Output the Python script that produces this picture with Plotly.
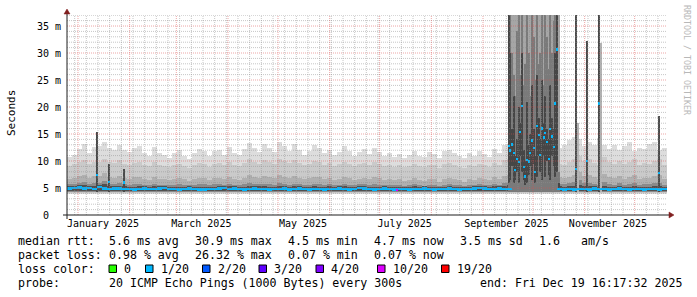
import plotly.graph_objects as go
from datetime import datetime, timedelta

# ---------------- data ----------------
START = datetime(2024, 12, 25, 9, 36)
SPAN_DAYS = 360
END = START + timedelta(days=SPAN_DAYS)
BIN_DAYS = 3
Y_MAX = 37.04

# 3-day bins (120) : smoke band tops in ms (None = covered by daily block)
max_top = [10.8, 11.2, 12.2, 13.2, 11.5, 12.6, 12.8, 13.5, 12.4, 12.0,
           13.0, 12.0, 11.6, 12.5, 12.8, 11.4, 11.0, 12.6, 11.5, 11.2,
           10.6, 11.4, 12.0, 11.0, 10.4, 11.5, 12.3, 11.8, 10.9, 11.9,
           12.0, 11.2, 12.6, 11.5, 11.2, 12.2, 13.4, 12.5, 11.7, 13.1,
           12.4, 11.6, 13.6, 12.8, 11.9, 13.2, 12.1, 11.2, 11.8, 12.9,
           12.5, 11.4, 12.0, 11.1, 11.6, 12.7, 11.8, 11.0, 11.7, 12.2,
           11.3, 12.5, 11.7, 11.0, 11.5, 10.8, 11.3, 10.6, 11.1, 11.9,
           11.0, 10.7, 11.6, 11.3, 10.5, 11.8, 12.0, 11.4, 10.9, 10.6,
           11.5, 11.0, 11.9, 11.3, 10.8, 12.3, 11.4, 13.0, 13.2, None,
           None, None, None, None, None, None, None, None, 12.5, 13.0,
           13.8, 14.5, 14.0, 12.8, 13.6, 13.0, 14.2, 12.9, 12.3, 13.0,
           12.1, 12.7, 13.5, 11.9, 12.5, 12.3, 13.1, 13.5, 12.0, 12.5]
band2_top = [9.1, 9.4, 9.8, 10.1, 9.5, 9.9, 9.8, 10.3, 9.9, 9.6,
             10.1, 9.5, 9.3, 9.7, 9.9, 9.2, 9.0, 9.8, 9.3, 9.1,
             8.8, 9.2, 9.5, 9.1, 8.7, 9.3, 9.6, 9.4, 8.9, 9.5,
             9.6, 9.2, 9.8, 9.3, 9.1, 9.7, 10.3, 9.9, 9.5, 10.1,
             9.8, 9.5, 10.4, 10.0, 9.6, 10.2, 9.7, 9.2, 9.5, 10.0,
             9.8, 9.3, 9.6, 9.1, 9.4, 9.9, 9.5, 9.0, 9.4, 9.7,
             9.3, 9.8, 9.5, 9.0, 9.3, 8.9, 9.2, 8.8, 9.1, 9.5,
             9.0, 8.8, 9.3, 9.2, 8.7, 9.4, 9.6, 9.2, 8.9, 8.7,
             9.3, 9.0, 9.5, 9.2, 8.9, 9.7, 9.3, 10.1, 10.3, None,
             None, None, None, None, None, None, None, None, 9.5, 9.3,
             9.8, 10.3, 11.0, 10.0, 10.4, 9.7, 9.3, 10.7, 9.9, 9.5,
             10.0, 9.4, 9.8, 10.3, 9.2, 9.6, 9.5, 10.0, 10.3, 9.3]
band3_top = [6.6, 6.9, 7.2, 7.5, 6.9, 7.2, 7.3, 7.8, 7.1, 6.9,
             7.3, 6.9, 6.7, 7.0, 7.1, 6.6, 6.5, 7.0, 6.7, 6.6,
             6.4, 6.6, 6.9, 6.6, 6.3, 6.7, 6.9, 6.8, 6.5, 6.8,
             6.9, 6.6, 7.0, 6.7, 6.5, 6.9, 7.4, 7.1, 6.8, 7.2,
             7.0, 6.8, 7.4, 7.1, 6.9, 7.3, 6.9, 6.6, 6.8, 7.1,
             7.0, 6.7, 6.9, 6.5, 6.7, 7.1, 6.8, 6.5, 6.7, 6.9,
             6.6, 7.0, 6.8, 6.4, 6.6, 6.4, 6.6, 6.3, 6.5, 6.8,
             6.5, 6.3, 6.7, 6.6, 6.2, 6.7, 6.9, 6.6, 6.4, 6.2,
             6.7, 6.5, 6.8, 6.6, 6.4, 7.0, 6.7, 7.2, 7.4, None,
             None, None, None, None, None, None, None, None, 7.0, 6.8,
             7.1, 7.5, 8.0, 7.2, 7.5, 7.0, 6.7, 7.6, 7.1, 6.8,
             7.2, 6.7, 7.0, 7.4, 6.6, 6.9, 6.8, 7.2, 7.4, 6.7]
band4_top = [5.7, 5.8, 6.0, 6.1, 5.8, 5.9, 6.0, 6.3, 5.8, 5.7,
             5.9, 5.7, 5.6, 5.7, 5.8, 5.6, 5.5, 5.7, 5.6, 5.6,
             5.5, 5.6, 5.7, 5.6, 5.5, 5.6, 5.7, 5.7, 5.5, 5.7,
             5.7, 5.6, 5.8, 5.6, 5.5, 5.7, 5.9, 5.8, 5.7, 5.8,
             5.7, 5.6, 5.9, 5.8, 5.6, 5.8, 5.7, 5.5, 5.6, 5.8,
             5.7, 5.6, 5.7, 5.5, 5.6, 5.8, 5.6, 5.5, 5.7, 5.7,
             5.6, 5.7, 5.6, 5.5, 5.6, 5.5, 5.6, 5.4, 5.5, 5.7,
             5.5, 5.4, 5.6, 5.6, 5.4, 5.6, 5.7, 5.6, 5.5, 5.4,
             5.6, 5.5, 5.7, 5.6, 5.5, 5.8, 5.6, 5.9, 6.0, None,
             None, None, None, None, None, None, None, None, 5.8, 5.7,
             5.9, 6.1, 6.4, 5.9, 6.0, 5.8, 5.6, 6.1, 5.8, 5.6,
             5.9, 5.6, 5.8, 6.0, 5.5, 5.7, 5.7, 5.9, 6.0, 5.6]
band5_top = [5.3, 5.4, 5.5, 5.5, 5.4, 5.4, 5.5, 5.7, 5.3, 5.3,
             5.4, 5.3, 5.2, 5.2, 5.3, 5.3, 5.2, 5.3, 5.3, 5.4,
             5.2, 5.2, 5.2, 5.2, 5.3, 5.2, 5.2, 5.2, 5.2, 5.2,
             5.3, 5.4, 5.3, 5.3, 5.2, 5.2, 5.3, 5.4, 5.3, 5.3,
             5.2, 5.2, 5.3, 5.4, 5.2, 5.3, 5.3, 5.2, 5.2, 5.3,
             5.2, 5.2, 5.3, 5.2, 5.3, 5.3, 5.2, 5.2, 5.4, 5.3,
             5.2, 5.2, 5.2, 5.3, 5.2, 5.2, 5.2, 5.2, 5.2, 5.3,
             5.2, 5.3, 5.2, 5.2, 5.2, 5.2, 5.3, 5.2, 5.2, 5.2,
             5.2, 5.3, 5.4, 5.3, 5.2, 5.3, 5.3, 5.4, 5.5, None,
             None, None, None, None, None, None, None, None, 5.3, 5.2,
             5.3, 5.4, 5.6, 5.3, 5.3, 5.3, 5.2, 5.4, 5.2, 5.2,
             5.3, 5.2, 5.2, 5.3, 5.2, 5.2, 5.2, 5.3, 5.3, 5.2]
median_ms = [4.9, 5.0, 5.1, 4.9, 5.0, 4.8, 5.2, 4.9, 4.8, 4.9,
             4.9, 4.8, 4.8, 4.7, 4.8, 4.9, 4.8, 4.8, 4.9, 5.0,
             4.8, 4.8, 4.7, 4.8, 4.9, 4.8, 4.7, 4.7, 4.8, 4.8,
             4.9, 5.0, 4.8, 4.9, 4.8, 4.7, 4.8, 4.9, 4.8, 4.8,
             4.7, 4.8, 4.8, 4.9, 4.7, 4.8, 4.9, 4.8, 4.7, 4.8,
             4.8, 4.7, 4.8, 4.8, 4.9, 4.8, 4.7, 4.8, 5.0, 4.9,
             4.8, 4.7, 4.8, 4.9, 4.8, 4.7, 4.8, 4.8, 4.7, 4.8,
             4.8, 4.9, 4.8, 4.7, 4.8, 4.8, 4.9, 4.8, 4.7, 4.8,
             4.8, 4.9, 5.0, 4.9, 4.8, 4.8, 4.9, 4.8, 4.8, None,
             None, None, None, None, None, None, None, None, 4.8, 4.7,
             4.8, 4.7, 4.8, 4.8, 4.7, 4.9, 4.8, 4.8, 4.7, 4.8,
             4.9, 4.8, 4.7, 4.8, 4.8, 4.7, 4.8, 4.8, 4.7, 4.8]
band_lows = [3.95, 4.1, 4.25, 4.35, 4.45]   # bottoms of the 5 smoke bands

# daily block (high-latency period), 2025-09-16 .. 2025-10-16
block_start = "2025-09-16"
block_band4_top = [38, 38, 30, 26, 22, 34, 38, 26, 38, 24, 28, 38, 30, 22, 38, 33,
                   25, 38, 28, 30, 38, 24, 38, 33, 27, 38, 30, 36, 38, 38, 8]
block_band5_top = [38, 30, 16, 22, 11, 14, 20, 17, 30, 12, 10, 21, 13, 15, 24, 16,
                   11, 26, 18, 14, 25, 17, 22, 16, 14, 24, 18, 16, 30, 38, 6]
block_band5_low = [6.0, 6.5, 9.0, 6.0, 6.5, 8.0, 6.0, 11.0, 8.0, 6.5, 5.5, 6.0, 7.5,
                   9.0, 6.5, 9.5, 6.0, 7.0, 11.0, 8.0, 6.5, 11.0, 7.0, 10.0, 7.5, 6.5,
                   11.0, 9.0, 7.0, 8.0, 4.6]
block_median = [12.8, 12.0, 13.1, 11.5, 8.3, 10.4, 9.8, 15.4, 20.2, 8.9, 7.1, 10.2,
                9.9, 11.5, 13.8, 12.4, 8.0, 16.5, 14.8, 11.1, 16.0, 14.4, 15.2,
                13.5, 10.4, 15.9, 14.5, 12.6, 20.6, 30.7, 4.8]

# single-day spikes / events
spike_dates = ["2025-01-12", "2025-01-19", "2025-01-28", "2025-07-11",
               "2025-10-26", "2025-11-02", "2025-11-09", "2025-12-15"]
spike_tops = [15.4, 9.5, 8.5, None, 40.0, 32.2, 40.0, 18.3]
spike_medians = [7.4, 6.1, 6.0, 4.6, 8.5, 10.0, 20.6, 7.8]
spike_loss = ["1/20", "1/20", "1/20", "10/20", "1/20", "1/20", "1/20", "1/20"]
# lighter columns next to spikes
halo_dates = ["2025-10-27", "2025-11-10"]
halo_tops = [17.0, 31.8]

loss_labels = ["0", "1/20", "2/20", "3/20", "4/20", "10/20", "19/20"]
loss_colors = ["#26ff00", "#00b8ff", "#0059ff", "#5e00ff", "#7e00ff", "#dd00ff", "#ff0000"]

y_tick_vals = [0, 5, 10, 15, 20, 25, 30, 35]
y_tick_text = ["0\u00a0\u00a0", "5 m", "10 m", "15 m", "20 m", "25 m", "30 m", "35 m"]
x_label_dates = ["2025-01-16", "2025-03-16", "2025-05-16", "2025-07-16", "2025-09-15", "2025-11-15"]
x_label_text = ["January 2025", "March 2025", "May 2025", "July 2025", "September 2025", "November 2025"]

legend_rows = [
    [(16, "median rtt:"), (107, "5.6 ms avg"), (193, "30.9 ms max"), (286, "4.5 ms min"),
     (372, "4.7 ms now"), (458, "3.5 ms sd"), (537, "1.6"), (579, "am/s")],
    [(16, "packet loss:"), (107, "0.98 % avg"), (193, "26.32 % max"), (286, "0.07 % min"),
     (372, "0.07 % now")],
    [(16, "loss color:")],
    [(16, "probe:"), (107, "20 ICMP Echo Pings (1000 Bytes) every 300s"),
     (478, "end: Fri Dec 19 16:17:32 2025")],
]
legend_row_y = [241, 255, 268.5, 282.5]
loss_box_x = [109, 145.5, 202.5, 259, 316, 377.5, 441.5]

# ---------------- figure ----------------
W, H = 697, 297
PL, PR, PT, PB = 67, 667, 15, 215
band_colors = ["#dddddd", "#cacaca", "#b0b0b0", "#8a8a8a", "#505050"]
block_colors = ["#dddddd", "#cacaca", "#a6a6a6", "#7a7a7a", "#464646"]
MED_HALF = 0.24
DAY_MS = 86400 * 1000


def px(xp):
    return (xp - PL) / (PR - PL)


def py(yp):
    return (PB - yp) / (PB - PT)


def bars(x, top, low, width, color):
    if isinstance(low, list):
        h = [None if (t is None or l is None) else t - l for t, l in zip(top, low)]
    else:
        h = [None if t is None else t - low for t in top]
    return go.Bar(x=x, y=h, base=low, width=width,
                  marker=dict(color=color, line=dict(width=0)),
                  hoverinfo="skip", showlegend=False)


fig = go.Figure()
n = len(median_ms)
centers = [START + timedelta(days=BIN_DAYS * (i + 0.5)) for i in range(n)]
for k, arr in enumerate([max_top, band2_top, band3_top, band4_top, band5_top]):
    fig.add_trace(bars(centers, arr, band_lows[k], BIN_DAYS * DAY_MS, band_colors[k]))

# daily block
bs = datetime.fromisoformat(block_start)
bdates = [bs + timedelta(days=i + 0.5) for i in range(len(block_median))]
for k in range(3):
    fig.add_trace(bars(bdates, [Y_MAX + 1] * len(bdates), band_lows[k], DAY_MS, block_colors[k]))
fig.add_trace(bars(bdates, block_band4_top, band_lows[3], DAY_MS, block_colors[3]))
fig.add_trace(bars(bdates, block_band5_top, block_band5_low, DAY_MS, block_colors[4]))

# spikes and halos
hd = [datetime.fromisoformat(d) + timedelta(hours=12) for d in halo_dates]
fig.add_trace(bars(hd, halo_tops, band_lows[2], 2 * DAY_MS, "#b4b4b4"))
sd = [datetime.fromisoformat(d) + timedelta(hours=12) for d in spike_dates]
fig.add_trace(bars([d for d, t in zip(sd, spike_tops) if t is not None],
                   [t for t in spike_tops if t is not None], band_lows[3],
                   1.2 * DAY_MS, "#4a4a4a"))

# median lines
c1 = loss_colors[1]
fig.add_trace(go.Bar(
    x=centers, y=[None if m is None else 2 * MED_HALF for m in median_ms],
    base=[None if m is None else m - MED_HALF for m in median_ms],
    width=BIN_DAYS * DAY_MS, marker=dict(color=c1, line=dict(width=0)),
    hoverinfo="skip", showlegend=False))
fig.add_trace(go.Bar(
    x=bdates, y=[2 * MED_HALF] * len(bdates), base=[m - MED_HALF for m in block_median],
    width=DAY_MS, marker=dict(color=c1, line=dict(width=0)),
    hoverinfo="skip", showlegend=False))
fig.add_trace(go.Bar(
    x=sd, y=[2 * MED_HALF] * len(sd), base=[m - MED_HALF for m in spike_medians],
    width=1.2 * DAY_MS,
    marker=dict(color=[loss_colors[loss_labels.index(l)] for l in spike_loss], line=dict(width=0)),
    hoverinfo="skip", showlegend=False))

shapes = []
# grid (drawn above the data like rrdtool)
MINOR = "rgba(143,143,143,0.5)"
MAJOR = "rgba(222,79,79,0.5)"
for v in range(1, 38):
    if v % 5 == 0 or v > Y_MAX:
        continue
    shapes.append(dict(type="line", xref="paper", yref="y", x0=0, x1=1, y0=v, y1=v,
                       line=dict(color=MINOR, width=1, dash="1px,1px"), layer="above"))
for v in y_tick_vals[1:]:
    shapes.append(dict(type="line", xref="paper", yref="y", x0=0, x1=1, y0=v, y1=v,
                       line=dict(color=MAJOR, width=1, dash="1px,1px"), layer="above"))
d = datetime(2024, 12, 30)
while d < END:
    if d > START and d.day != 1:
        shapes.append(dict(type="line", xref="x", yref="paper", x0=d, x1=d, y0=0, y1=1,
                           line=dict(color=MINOR, width=1, dash="1px,1px"), layer="above"))
    d += timedelta(days=7)
for mth in range(1, 13):
    d = datetime(2025, mth, 1)
    shapes.append(dict(type="line", xref="x", yref="paper", x0=d, x1=d, y0=0, y1=1,
                       line=dict(color=MAJOR, width=1, dash="1px,1px"), layer="above"))
# axes and arrows
AX = "#1f1f1f"
AR = "#801f1f"
shapes.append(dict(type="line", xref="paper", yref="paper", x0=px(63), x1=px(670),
                   y0=py(215), y1=py(215), line=dict(color=AX, width=1), layer="above"))
shapes.append(dict(type="line", xref="paper", yref="paper", x0=px(67), x1=px(67),
                   y0=py(219), y1=py(12), line=dict(color=AX, width=1), layer="above"))
shapes.append(dict(type="path", xref="paper", yref="paper",
                   path=f"M {px(674)} {py(215)} L {px(669)} {py(212)} L {px(669)} {py(218)} Z",
                   fillcolor=AR, line=dict(color=AR, width=0.5), layer="above"))
shapes.append(dict(type="path", xref="paper", yref="paper",
                   path=f"M {px(67)} {py(9)} L {px(64)} {py(14)} L {px(70)} {py(14)} Z",
                   fillcolor=AR, line=dict(color=AR, width=0.5), layer="above"))
# loss colour boxes
for bx, col in zip(loss_box_x, loss_colors):
    shapes.append(dict(type="rect", xref="paper", yref="paper", x0=px(bx), x1=px(bx + 7.5),
                       y0=py(265), y1=py(272.5), fillcolor=col,
                       line=dict(color="black", width=1), layer="above"))

MONO = "DejaVu Sans Mono"
ann = []
for row, yy in zip(legend_rows, legend_row_y):
    for xx, txt in row:
        ann.append(dict(text=txt, xref="paper", yref="paper", x=px(xx), y=py(yy),
                        xanchor="left", yanchor="middle", showarrow=False,
                        font=dict(family=MONO, size=11.6, color="black")))
for bx, lab in zip(loss_box_x, loss_labels):
    ann.append(dict(text=lab, xref="paper", yref="paper", x=px(bx + 13), y=py(268.5),
                    xanchor="left", yanchor="middle", showarrow=False,
                    font=dict(family=MONO, size=11.6, color="black")))
ann.append(dict(text="Seconds", xref="paper", yref="paper", x=px(11), y=py(113),
                xanchor="center", yanchor="middle", textangle=-90, showarrow=False,
                font=dict(family=MONO, size=11, color="black")))
ann.append(dict(text="RRDTOOL / TOBI OETIKER", xref="paper", yref="paper", x=px(687), y=py(60),
                xanchor="center", yanchor="middle", textangle=90, showarrow=False,
                font=dict(family=MONO, size=8.3, color="#b8b8b8")))

fig.update_layout(
    width=W, height=H, margin=dict(l=PL, r=W - PR, t=PT, b=H - PB),
    paper_bgcolor="white", plot_bgcolor="white", barmode="overlay", bargap=0,
    showlegend=False, shapes=shapes, annotations=ann,
    xaxis=dict(type="date", range=[START, END], showgrid=False, zeroline=False, showline=False,
               tickvals=x_label_dates, ticktext=x_label_text, ticks="",
               tickfont=dict(family=MONO, size=10, color="black"), ticklabelstandoff=1,
               fixedrange=True),
    yaxis=dict(range=[0, Y_MAX], showgrid=False, zeroline=False, showline=False,
               tickvals=y_tick_vals, ticktext=y_tick_text, ticks="",
               tickfont=dict(family=MONO, size=10, color="black"), ticklabelstandoff=5,
               fixedrange=True),
)
fig.write_html("out.html")
